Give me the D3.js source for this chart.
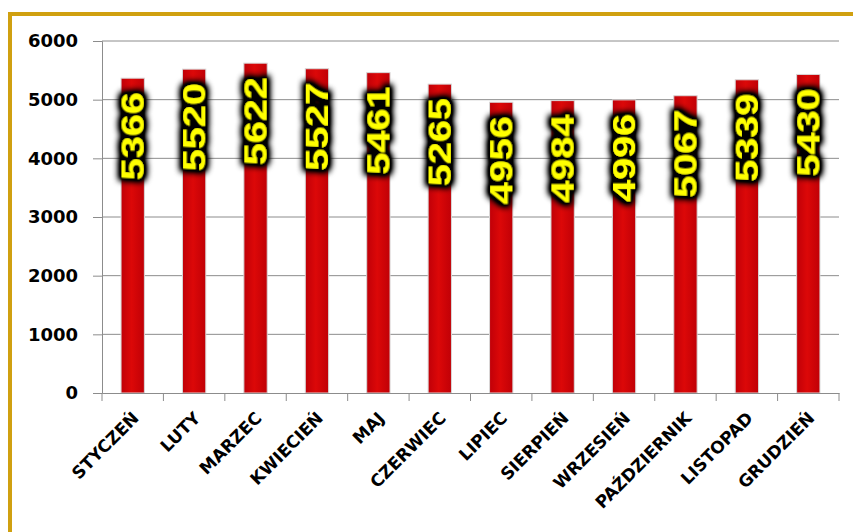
<!DOCTYPE html>
<html lang="pl">
<head>
<meta charset="UTF-8" />
<title>Miesiące</title>
<style>
  body { margin: 0; background: #fff; }
  svg { display: block; }
  .tick text { font-family: "DejaVu Sans", sans-serif; font-weight: bold; fill: #000; }
</style>
</head>
<body>
<svg width="853" height="532"></svg>
<script src="https://d3js.org/d3.v7.min.js"></script>
<script>
const months = ["STYCZEŃ", "LUTY", "MARZEC", "KWIECIEŃ", "MAJ", "CZERWIEC",
  "LIPIEC", "SIERPIEŃ", "WRZESIEŃ", "PAŹDZIERNIK", "LISTOPAD", "GRUDZIEŃ"];
const values = [5366, 5520, 5622, 5527, 5461, 5265, 4956, 4984, 4996, 5067, 5339, 5430];
const yTicks = [0, 1000, 2000, 3000, 4000, 5000, 6000];

const svg = d3.select("svg");

// gold frame (cut off on the right and bottom)
svg.append("path")
  .attr("d", "M10,532 V14 H853")
  .attr("fill", "none")
  .attr("stroke", "#d0a010")
  .attr("stroke-width", 4);

const x = d3.scaleBand().domain(months).range([102, 839]).paddingInner(0.62).paddingOuter(0.31);
const y = d3.scaleLinear().domain([0, 6000]).range([393, 41]);

const defs = svg.append("defs");
const grad = defs.append("linearGradient").attr("id", "barGrad");
grad.append("stop").attr("offset", "0%").attr("stop-color", "#c00008");
grad.append("stop").attr("offset", "45%").attr("stop-color", "#dc0808");
grad.append("stop").attr("offset", "100%").attr("stop-color", "#c00006");

const glow = defs.append("filter").attr("id", "glow")
  .attr("x", "-50%").attr("y", "-50%").attr("width", "200%").attr("height", "200%");
glow.append("feMorphology").attr("in", "SourceAlpha").attr("operator", "dilate").attr("radius", 3).attr("result", "d");
glow.append("feGaussianBlur").attr("in", "d").attr("stdDeviation", 3).attr("result", "b");
glow.append("feComponentTransfer").attr("in", "b").attr("result", "c")
  .append("feFuncA").attr("type", "linear").attr("slope", 1.6);
const merge = glow.append("feMerge");
merge.append("feMergeNode").attr("in", "c");
merge.append("feMergeNode").attr("in", "SourceGraphic");

// gridlines
svg.append("g")
  .selectAll("line")
  .data(yTicks.slice(1))
  .join("line")
  .attr("x1", 102).attr("x2", 839)
  .attr("y1", d => y(d)).attr("y2", d => y(d))
  .attr("stroke", "#8c8c8c").attr("stroke-width", 1);

// y axis
const yAxis = svg.append("g")
  .attr("transform", "translate(102,0)")
  .call(d3.axisLeft(y).tickValues(yTicks).tickFormat(d3.format("d")).tickSize(9).tickPadding(15));
yAxis.selectAll("path, line").attr("stroke", "#8c8c8c");
yAxis.selectAll("text").attr("font-size", 18);

// bars
svg.append("g")
  .selectAll("rect")
  .data(values)
  .join("rect")
  .attr("x", (d, i) => x(months[i]))
  .attr("width", x.bandwidth())
  .attr("y", d => y(d))
  .attr("height", d => y(0) - y(d))
  .attr("fill", "url(#barGrad)")
  .attr("stroke", "#d8d8d8")
  .attr("stroke-width", 1);

// x axis
const xAxis = svg.append("g")
  .attr("transform", "translate(0,393)")
  .call(d3.axisBottom(x).tickSize(0));
xAxis.select(".domain").attr("stroke", "#8c8c8c");
xAxis.selectAll("text")
  .attr("font-size", 17)
  .attr("text-anchor", "end")
  .attr("x", 0).attr("y", 0).attr("dy", "0.35em")
  .attr("transform", "translate(3,22) rotate(-45)");

// tick marks at category boundaries
svg.append("g")
  .selectAll("line")
  .data(d3.range(months.length + 1))
  .join("line")
  .attr("x1", i => 102 + i * x.step()).attr("x2", i => 102 + i * x.step())
  .attr("y1", 393).attr("y2", 401)
  .attr("stroke", "#8c8c8c");

// value labels
svg.append("g")
  .selectAll("text")
  .data(values)
  .join("text")
  .attr("transform", (d, i) => `translate(${x(months[i]) + x.bandwidth() / 2 + 11},${y(d) + 14}) rotate(-90)`)
  .attr("text-anchor", "end")
  .attr("font-family", "'Liberation Sans', sans-serif")
  .attr("font-weight", "bold")
  .attr("font-size", 31)
  .attr("textLength", 88)
  .attr("lengthAdjust", "spacingAndGlyphs")
  .attr("fill", "#ffff00")
  .attr("filter", "url(#glow)")
  .text(d => d);
</script>
</body>
</html>
